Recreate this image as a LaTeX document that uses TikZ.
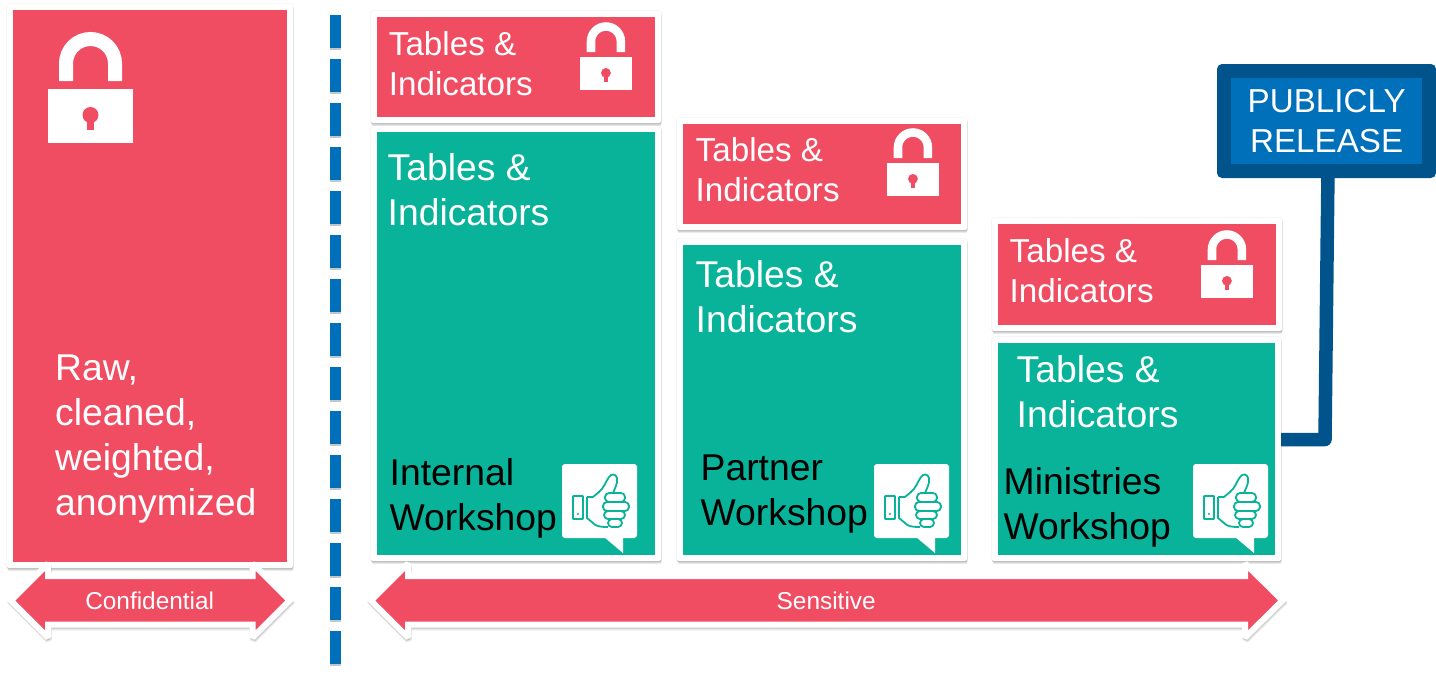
\documentclass[tikz,border=0pt]{standalone}
\usepackage{fontspec}
\setmainfont{Liberation Sans}
\usetikzlibrary{shadows}
\definecolor{myred}{HTML}{F04C62}
\definecolor{mygreen}{HTML}{08B39A}
\definecolor{myblue}{HTML}{0070BA}
\definecolor{mydark}{HTML}{00538B}
\tikzset{
  softshadow/.style={general shadow={fill=black,draw=black,line width=1.6pt,opacity=.035,shadow xshift=0pt,shadow yshift=0pt},
                     general shadow={fill=black,opacity=.07,shadow xshift=.6pt,shadow yshift=-3.2pt},
                     general shadow={fill=black,opacity=.10,shadow xshift=.4pt,shadow yshift=-2pt},
                     general shadow={fill=black,opacity=.10,shadow xshift=.2pt,shadow yshift=-1pt}},
  bandshadow/.style={general shadow={fill=black,draw=black,line width=6pt,line join=miter,miter limit=2,opacity=.07,shadow xshift=.8pt,shadow yshift=-3pt},
                     general shadow={fill=black,draw=black,line width=6pt,line join=miter,miter limit=2,opacity=.12,shadow xshift=.4pt,shadow yshift=-1.6pt}},
  framebox/.style={fill=white,rounded corners=2pt,inner sep=0,outer sep=0,softshadow},
  colorbox/.style={inner sep=0,outer sep=0},
  bigtext/.style={font=\fontsize{37.3}{45}\selectfont,align=left,anchor=base west,inner sep=0,text=white},
  smalltext/.style={font=\fontsize{33.2}{40}\selectfont,align=left,anchor=base west,inner sep=0,text=white},
  worktext/.style={font=\fontsize{37.3}{45}\selectfont,align=left,anchor=base west,inner sep=0,text=black},
  arrowtext/.style={font=\fontsize{24.4}{28}\selectfont,inner sep=0,text=white},
  band/.style={fill=myred,draw=white,line width=6pt,line join=miter,miter limit=2,bandshadow},
}
% #1 name, #2 x1, #3 y1, #4 x2, #5 y2, #6 colour: the coloured area; a white frame 6px wider all round
\newcommand{\framedbox}[6]{%
  \node[framebox,minimum width={(#4-#2+12)*1pt},minimum height={(#5-#3+12)*1pt}] (#1frame) at ({(#2+#4)/2},{(#3+#5)/2}) {};
  \node[colorbox,fill=#6,minimum width={(#4-#2)*1pt},minimum height={(#5-#3)*1pt}] (#1) at ({(#2+#4)/2},{(#3+#5)/2}) {};
}
\newcommand{\lockicon}[3]{%
  \begin{scope}[shift={(#1,#2)},scale=#3]
    \fill[white] (0,0) rectangle (85,54);
    \draw[white,line width={14*#3 pt}] (18,-8) -- (18,-25.5) arc[start angle=180,end angle=360,radius=24.5] -- (67,-8);
    \fill[myred] (42.5,26) circle[radius=8];
    \fill[myred] (39,26) rectangle (46,41);
  \end{scope}}
\newcommand{\thumbicon}[2]{%
  \begin{scope}[shift={(#1,#2)}]
    \fill[white,rounded corners=3pt] (0,0) rectangle (75,74);
    \fill[white] (42,73) -- (61,89) -- (61,73) -- cycle;
    \begin{scope}[draw=mygreen,line width=1.8pt,line join=round]
      \draw[rounded corners=.5pt] (11,32) rectangle (21,55);
      \fill[mygreen] (16,50) circle[radius=1.2];
      \draw (25,33) -- (31,33) -- (37,28) .. controls (42,24) and (44,17) .. (47,13) .. controls (50,9) and (54,10) .. (55,14) .. controls (56,19) and (53,24) .. (51,29);
      \draw (25,33) -- (25,54) -- (31,59) .. controls (34,62) and (37,63) .. (46,63);
      \draw[rounded corners=4pt] (43,29) rectangle (63,38);
      \draw[rounded corners=4pt] (41,38) rectangle (67,47);
      \draw[rounded corners=4pt] (42,47) rectangle (63,55);
      \draw[rounded corners=4pt] (46,55) rectangle (60,63);
    \end{scope}
  \end{scope}}
\begin{document}
\begin{tikzpicture}[x=1pt,y=-1pt]
\useasboundingbox (0,0) rectangle (1436,681);
% dashed divider
\coordinate (dashtop) at (335.5,15);
\coordinate (dashbottom) at (335.5,664);
\draw[black!22,line width=11pt,dash pattern=on 33pt off 11pt] ([yshift=-2pt]dashtop) -- ([yshift=-2pt]dashbottom);
\draw[myblue,line width=11pt,dash pattern=on 33pt off 11pt] (dashtop) -- (dashbottom);
% boxes
\framedbox{conf}{13}{10}{287}{562}{myred}
\framedbox{redA}{377}{17}{655}{117}{myred}
\framedbox{greenA}{377}{132}{655}{555}{mygreen}
\framedbox{redB}{683}{124}{961}{224}{myred}
\framedbox{greenB}{683}{245}{961}{555}{mygreen}
\framedbox{redC}{998}{224}{1276}{325}{myred}
\framedbox{greenC}{998}{343}{1275}{555}{mygreen}
% public release sign and its connector
\coordinate (stemtop) at (1328,170);
\coordinate (stembend) at (1325,439.5);
\draw[mydark,line width=13.5pt,line join=round] (stemtop) -- (stembend) -- (greenCframe.east |- stembend);
\node[fill=mydark,rounded corners=5pt,inner sep=0,minimum width=219pt,minimum height=114pt] (signframe) at (1326.5,121) {};
\node[fill=myblue,inner sep=0,minimum width=191pt,minimum height=86pt] (sign) at (1326.5,121) {};
\node[font=\fontsize{33.2}{40}\selectfont,align=center,text=white,inner sep=0,anchor=base] (signtext) at (1326.7,152.7) {PUBLICLY\\RELEASE};
% locks
\lockicon{48}{89}{1}
\lockicon{580}{57}{.61}
\lockicon{887}{163}{.61}
\lockicon{1201}{265}{.61}
% thumbs
\thumbicon{562}{464}
\thumbicon{874}{464}
\thumbicon{1193}{464}
% texts
\node[bigtext] (t1) at (55,515) {Raw,\\cleaned,\\weighted,\\anonymized};
\node[smalltext] (t2) at (388.7,95) {Tables \&\\Indicators};
\node[bigtext] (t3) at (387.5,225) {Tables \&\\Indicators};
\node[worktext] (t4) at (389.5,530) {Internal\\Workshop};
\node[smalltext] (t5) at (695.5,201) {Tables \&\\Indicators};
\node[bigtext] (t6) at (695.5,332.5) {Tables \&\\Indicators};
\node[worktext] (t7) at (700.5,525) {Partner\\Workshop};
\node[smalltext] (t8) at (1009.5,302) {Tables \&\\Indicators};
\node[bigtext] (t9) at (1016.5,427) {Tables \&\\Indicators};
\node[worktext] (t10) at (1003.5,539) {Ministries\\Workshop};
% bottom arrows
\path[band] (11,600.5) -- (48,563.5) -- (48,576) -- (252.5,576) -- (252.5,563.5) -- (289.5,600.5) -- (252.5,637.5) -- (252.5,624.5) -- (48,624.5) -- (48,637.5) -- cycle;
\node[arrowtext] (confl) at (149.7,600.5) {Confidential};
\path[band] (371,600.5) -- (408,563.5) -- (408,576) -- (1245,576) -- (1245,563.5) -- (1282.5,600.5) -- (1245,637.5) -- (1245,624.5) -- (408,624.5) -- (408,637.5) -- cycle;
\node[arrowtext] (sensl) at (826.2,600.5) {Sensitive};
\end{tikzpicture}
\end{document}
